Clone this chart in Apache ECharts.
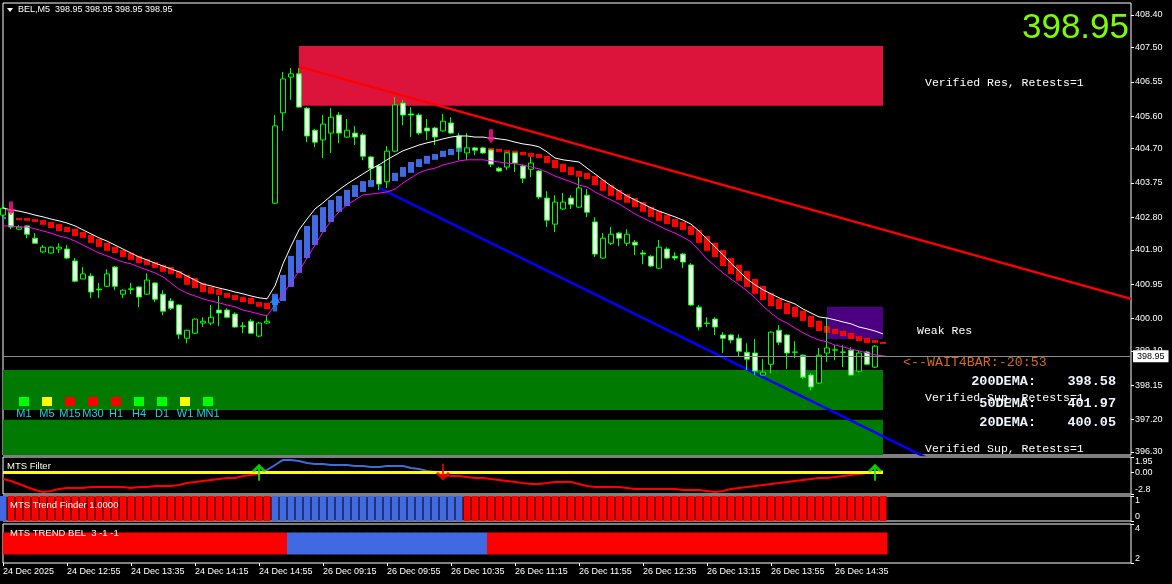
<!DOCTYPE html>
<html><head><meta charset="utf-8">
<script src="https://cdn.jsdelivr.net/npm/echarts@6/dist/echarts.min.js"></script>
<style>html,body{margin:0;padding:0;background:#000;overflow:hidden}#c{width:1172px;height:584px}</style>
</head><body><div id="c"></div>
<script>
// ---------------- DATA ----------------
const symbolName = 'BEL,M5';
const bidPrice = 398.95;
const tickLabels = ['24 Dec 2025','24 Dec 12:55','24 Dec 13:35','24 Dec 14:15','24 Dec 14:55','26 Dec 09:15','26 Dec 09:55','26 Dec 10:35','26 Dec 11:15','26 Dec 11:55','26 Dec 12:35','26 Dec 13:15','26 Dec 13:55','26 Dec 14:35'];
const priceTicks = [396.30,397.20,398.15,399.10,400.00,400.95,401.90,402.80,403.75,404.70,405.60,406.55,407.50,408.40];
const filterTicks = [-2.8, 0, 1.95];
const finderTicks = [0, 1];
const belTicks = [2, 4];

const open = [402.86,402.94,402.47,402.56,402.22,401.84,401.81,401.92,401.92,401.59,
401.09,401.17,400.81,400.89,401.42,400.67,400.80,400.87,400.67,400.98,
400.67,400.48,400.37,399.45,399.59,399.87,399.87,400.23,400.23,400.12,
399.79,399.92,399.51,399.87,403.19,405.69,406.68,406.77,405.82,405.21,
404.94,405.13,405.63,405.02,405.13,405.08,404.47,404.22,403.78,404.63,
405.96,405.66,405.63,405.27,405.27,405.19,405.41,405.05,404.58,404.72,
404.72,404.66,404.16,404.19,404.58,404.22,404.13,404.08,403.33,402.61,
403.03,403.33,403.08,403.41,402.67,401.67,402.08,402.36,402.08,402.11,
401.81,401.72,401.39,401.92,401.72,401.78,401.48,400.31,399.87,399.98,
399.54,399.54,399.45,399.06,399.04,398.43,398.73,399.67,399.54,399.06,
398.98,398.43,398.21,399.04,399.12,399.07,399.12,398.54,399.07,398.65,398.95];
const high = [403.14,403.03,402.58,402.58,402.36,402.03,401.99,402.08,402.03,401.67,
401.42,401.25,400.98,401.36,401.45,400.80,400.98,400.89,401.25,401.00,
400.78,400.56,400.40,399.69,400.00,400.03,400.37,400.62,400.28,400.17,
399.90,399.98,399.90,400.09,405.63,406.82,406.93,406.93,405.85,405.24,
405.63,405.82,405.71,405.52,405.33,405.13,404.50,404.27,404.77,406.13,
406.05,405.85,405.68,405.52,405.30,405.66,405.57,405.13,405.13,404.75,
404.75,404.69,404.19,404.60,404.60,404.25,404.47,404.11,403.52,403.41,
403.47,403.41,403.91,403.58,402.80,402.36,402.53,402.39,402.47,402.17,
401.89,401.75,402.17,401.97,401.83,401.81,401.53,400.37,400.03,400.03,
399.62,399.56,399.56,399.31,399.43,398.87,399.64,399.81,399.56,399.37,
399.00,398.48,399.18,400.01,399.26,399.26,399.20,399.10,399.10,399.26,398.95];
const low = [402.78,402.47,402.44,402.22,402.06,401.81,401.80,401.81,401.64,401.00,
401.09,400.56,400.56,400.87,400.78,400.56,400.67,400.31,400.65,400.45,
400.09,400.23,399.43,399.31,399.57,399.76,399.81,399.79,400.00,399.74,
399.59,399.57,399.48,399.85,403.17,405.19,406.05,405.83,404.88,404.74,
404.44,404.58,404.85,405.00,404.80,404.38,403.83,403.55,403.61,404.60,
405.35,405.02,405.08,404.94,404.80,405.17,405.10,404.38,404.38,404.52,
404.55,404.19,404.05,404.11,404.05,403.75,403.91,403.30,402.53,402.39,
403.00,403.03,403.05,402.80,401.70,401.65,402.03,402.00,402.00,401.75,
401.50,401.42,401.36,401.64,401.61,401.39,400.34,399.67,399.76,399.54,
399.04,399.31,398.93,398.57,398.43,398.42,398.48,399.26,398.59,398.90,
398.32,398.01,398.18,398.79,398.84,398.65,398.40,398.50,398.70,398.62,398.95];
const close = [403.05,402.53,402.53,402.33,402.08,401.97,401.97,401.97,401.67,401.03,
401.23,400.73,400.79,401.23,400.89,400.78,400.82,400.59,401.06,400.53,
400.20,400.28,399.56,399.67,399.98,399.92,400.03,400.15,400.03,399.76,
399.78,399.59,399.87,399.92,405.33,406.63,406.77,405.85,405.05,404.88,
405.38,405.57,405.13,405.21,405.02,404.49,404.16,403.72,404.63,405.91,
405.63,405.63,405.13,405.19,405.02,405.46,405.13,404.72,404.72,404.66,
404.58,404.27,404.08,404.58,404.30,403.88,404.30,403.36,402.72,403.22,
403.22,403.16,403.61,402.94,401.78,402.22,402.33,402.22,402.33,402.03,
401.78,401.45,401.97,401.67,401.67,401.56,400.37,399.76,399.86,399.76,
399.45,399.40,399.09,398.87,398.54,398.51,399.62,399.34,399.04,399.07,
398.37,398.10,398.98,399.18,399.13,399.06,398.43,399.04,398.73,399.23,398.95];

const emaUpper = [403.06,403.00,402.97,402.92,402.86,402.81,402.75,402.70,402.64,402.56,
402.45,402.34,402.23,402.14,402.03,401.92,401.81,401.70,401.62,401.53,
401.45,401.37,401.29,401.17,401.06,400.95,400.90,400.84,400.79,400.73,
400.68,400.62,400.57,400.54,400.90,401.51,402.00,402.45,402.75,403.03,
403.20,403.39,403.56,403.72,403.86,404.00,404.14,404.25,404.39,404.52,
404.64,404.72,404.80,404.86,404.91,404.97,405.02,405.05,405.05,405.02,
405.02,404.99,404.97,404.94,404.88,404.83,404.80,404.75,404.61,404.44,
404.39,404.36,404.33,404.16,404.00,403.83,403.67,403.53,403.39,403.28,
403.17,403.06,402.97,402.89,402.81,402.72,402.61,402.42,402.20,401.98,
401.76,401.53,401.31,401.09,400.93,400.79,400.68,400.57,400.48,400.40,
400.26,400.15,400.04,400.01,399.96,399.90,399.85,399.76,399.71,399.65,399.57];
const emaLower = [402.56,402.56,402.53,402.53,402.48,402.42,402.36,402.28,402.23,402.14,
402.03,401.92,401.81,401.73,401.64,401.56,401.51,401.42,401.34,401.26,
401.15,400.98,400.81,400.70,400.62,400.54,400.48,400.43,400.37,400.32,
400.23,400.18,400.12,400.07,400.37,400.68,400.98,401.31,401.67,402.03,
402.39,402.70,402.95,403.14,403.28,403.42,403.44,403.47,403.50,403.58,
403.75,403.89,404.03,404.11,404.16,404.25,404.30,404.36,404.39,404.39,
404.39,404.36,404.33,404.30,404.28,404.25,404.19,404.14,404.05,403.94,
403.86,403.78,403.69,403.64,403.50,403.39,403.28,403.17,403.03,402.89,
402.78,402.67,402.56,402.45,402.36,402.25,402.12,401.89,401.64,401.45,
401.26,401.09,400.93,400.76,400.57,400.34,400.15,399.98,399.87,399.73,
399.60,399.49,399.40,399.35,399.26,399.21,399.15,399.10,399.04,398.99,398.96];

const ribbonOpen = [402.75,402.81,402.78,402.78,402.75,402.72,402.67,402.61,402.53,402.48,
402.39,402.31,402.20,402.09,401.98,401.89,401.81,401.73,401.64,401.56,
401.48,401.42,401.31,401.20,401.12,400.98,400.87,400.81,400.70,400.65,
400.59,400.57,400.45,400.43,400.37,400.48,400.87,401.26,401.67,402.03,
402.39,402.67,402.95,403.11,403.36,403.50,403.64,403.72,403.78,403.80,
403.92,404.03,404.19,404.28,404.39,404.47,404.52,404.61,404.61,404.64,
404.64,404.72,404.69,404.66,404.64,404.61,404.58,404.55,404.50,404.39,
404.28,404.19,404.08,404.03,403.94,403.83,403.69,403.56,403.44,403.33,
403.22,403.08,402.97,402.86,402.75,402.67,402.56,402.45,402.28,402.09,
401.89,401.67,401.48,401.31,401.09,400.90,400.70,400.54,400.43,400.32,
400.21,400.07,399.93,399.79,399.71,399.65,399.60,399.51,399.46,399.40,399.35];
const ribbonClose = [402.81,402.75,402.72,402.70,402.67,402.59,402.50,402.42,402.39,402.28,
402.23,402.09,401.98,401.87,401.81,401.70,401.62,401.53,401.48,401.40,
401.29,401.23,401.12,400.93,400.84,400.73,400.68,400.65,400.57,400.51,
400.45,400.40,400.32,400.26,400.68,401.20,401.73,402.17,402.56,402.86,
403.08,403.28,403.39,403.56,403.69,403.80,403.83,403.86,403.89,404.03,
404.19,404.33,404.41,404.50,404.55,404.64,404.69,404.72,404.72,404.72,
404.72,404.64,404.61,404.58,404.55,404.52,404.47,404.44,404.30,404.16,
404.05,403.97,403.92,403.86,403.69,403.53,403.39,403.28,403.20,403.08,
402.95,402.81,402.70,402.61,402.53,402.45,402.31,402.09,401.87,401.70,
401.45,401.23,401.04,400.87,400.68,400.51,400.34,400.26,400.12,400.04,
399.93,399.76,399.65,399.60,399.57,399.51,399.43,399.37,399.32,399.32,399.29];

const resTrend = [[37, 406.97], [141, 400.54]];
const supTrend = [[47, 403.61], [117, 395.97]];
// zones: [fromBar, toBar, top, bottom]
const resZone = [37, 110, 407.54, 405.89];
const weakResZone = [103, 110, 400.32, 399.43];
const supZoneA = [0, 110, 398.57, 397.46];
const supZoneB = [0, 110, 397.19, 396.00];
const sellArrows = [[1, 403.04], [61, 405.04]];
const buyArrows = [[34, 400.41]];

const filterValues = [-0.87,-1.13,-1.51,-1.90,-2.28,-2.54,-2.41,-2.16,-2.03,-2.03,
-2.03,-1.90,-1.90,-1.90,-1.90,-1.90,-2.03,-1.90,-1.90,-1.77,
-1.77,-1.77,-1.64,-1.39,-1.26,-1.13,-1.00,-0.87,-0.74,-0.74,
-0.49,-0.36,-0.23,0.28,0.92,1.57,1.57,1.44,1.18,1.05,
1.05,0.92,0.92,0.92,0.80,0.80,0.67,0.67,0.80,0.80,
0.80,0.54,0.41,0.15,0.03,-0.36,-0.49,-0.49,-0.62,-0.74,
-0.74,-0.87,-1.00,-1.13,-1.26,-1.39,-1.51,-1.51,-1.39,-1.26,
-1.26,-1.26,-1.51,-1.77,-1.90,-1.90,-1.90,-1.90,-2.03,-2.16,
-2.16,-2.16,-2.16,-2.16,-2.16,-2.28,-2.28,-2.28,-2.41,-2.54,
-2.41,-2.16,-2.03,-1.90,-1.77,-1.64,-1.51,-1.39,-1.26,-1.13,
-1.00,-0.87,-0.74,-0.74,-0.62,-0.49,-0.36,-0.23,-0.10,0.03,0.15];
const filterLevel = 0;
const filterUp = [32, 109];
const filterDown = [55];
// runs: [fromBar, toBar, direction]
const finderRuns = [[0,0,1],[1,33,-1],[34,57,1],[58,110,-1]];
const belRuns = [[0,35,-1],[36,60,1],[61,110,-1]];
const belLevel = 3;

const mtfNames = ['M1','M5','M15','M30','H1','H4','D1','W1','MN1'];
const mtfState = ['up','flat','down','down','down','up','up','flat','up'];
const demaNames = ['200DEMA:','50DEMA:','20DEMA:'];
const demaValues = [398.58, 401.97, 400.05];
const countdown = '<--WAIT4BAR:-20:53';

// ---------------- BUILD ----------------
const BAR_COUNT = open.length;
const SLOTS = 142;
const cats = Array.from({length: SLOTS}, (_, i) => 'b' + i);
const RED = '#FF0000', BLUE = '#4169E1', LIME = '#00FF00';
const FONT = '"Liberation Sans", Arial, sans-serif';
const MONO = '"Liberation Mono", "Courier New", monospace';
function runsToDirs(runs){const d=[];runs.forEach(r=>{for(let i=r[0];i<=r[1];i++)d[i]=r[2];});return d;}
const finderDir = runsToDirs(finderRuns), belDir = runsToDirs(belRuns);

const candleData = open.map((o, i) => [o, close[i], low[i], high[i]]);
const ribbonData = ribbonOpen.map((o, i) => [i, o, ribbonClose[i]]);
const tickShow = (idx) => idx % 8 === 0 && idx / 8 < tickLabels.length;

function clipRect(r, cs){return echarts.graphic.clipRectByRect(r,{x:cs.x,y:cs.y,width:cs.width,height:cs.height});}
function zoneItem(params, api){
  const a = api.coord([api.value(0), api.value(2)]);
  const b = api.coord([api.value(1), api.value(3)]);
  const s = clipRect({x:a[0], y:a[1], width:b[0]-a[0], height:b[1]-a[1]}, params.coordSys);
  return s && {type:'rect', shape:s, style:{fill: api.visual('color')}};
}
function ribbonItem(params, api){
  const i = api.value(0), o = api.value(1), c = api.value(2);
  const p1 = api.coord([i, Math.max(o,c)]), p2 = api.coord([i, Math.min(o,c)]);
  const s = clipRect({x:p1[0]-3, y:p1[1], width:6, height:Math.max(2, p2[1]-p1[1])}, params.coordSys);
  return s && {type:'rect', shape:s, style:{fill: c >= o ? BLUE : RED}};
}
function belItem(params, api){
  const i = api.value(0), p = api.coord([i, api.value(1)]);
  const s = clipRect({x:p[0]-4, y:p[1]-11, width:8.5, height:22}, params.coordSys);
  return s && {type:'rect', shape:s, style:{fill: api.value(2) > 0 ? BLUE : RED}};
}

const grids = [
  {top:3, height:452}, {top:457, height:37}, {top:496, height:25}, {top:524, height:39}
].map(g => Object.assign({left:3, right:41, show:true, borderColor:'#fff', borderWidth:1, backgroundColor:'#000'}, g));

const xAxes = grids.map((g, k) => ({
  type:'category', data:cats, boundaryGap:false, gridIndex:k,
  axisLine:{show:false}, splitLine:{show:false},
  axisTick:{show:k===3, interval:(i)=>tickShow(i), length:3, lineStyle:{color:'#fff'}},
  axisLabel:{show:k===3, interval:(i)=>tickShow(i), formatter:(v, i)=>tickLabels[i/8] || '', align:'left', color:'#fff', fontFamily:FONT, fontSize:9, margin:4}
}));
function yAx(k, min, max, ticks, fmt){
  return {type:'value', gridIndex:k, position:'right', min, max, splitLine:{show:false},
    axisLine:{show:false},
    axisTick:{show:true, length:3, customValues:ticks, lineStyle:{color:'#fff'}},
    axisLabel:{customValues:ticks, formatter:fmt, color:'#fff', fontFamily:FONT, fontSize:9, margin:4,
      verticalAlignMinLabel: k ? 'bottom' : null, verticalAlignMaxLabel: k ? 'top' : null}};
}
const yAxes = [
  yAx(0, 396.2169, 408.7323, priceTicks, v => v.toFixed(2)),
  yAx(1, -2.8, 1.95, filterTicks, v => Math.abs(v) < 1e-9 ? '0.00' : String(v)),
  yAx(2, 0, 1, finderTicks, v => String(v)),
  yAx(3, 2, 4, belTicks, v => String(v))
];

const arrowDown = 'path://M3,0 L7,0 L7,7 L10,7 L5,13 L0,7 L3,7 Z';
const arrowUp = 'path://M5,0 L10,6 L7,6 L7,13 L3,13 L3,6 L0,6 Z';
const lineUp = 'path://M7,0 L14,7 L12,9 L8,5 L8,17 L6,17 L6,5 L2,9 L0,7 Z';
const lineDown = 'path://M7,17 L14,10 L12,8 L8,12 L8,0 L6,0 L6,12 L2,8 L0,10 Z';

const series = [
  {type:'custom', name:'zones', xAxisIndex:0, yAxisIndex:0, z:1, silent:true, renderItem:zoneItem,
   encode:{x:[0,1], y:[2,3]},
   data:[{value:supZoneA, itemStyle:{color:'#007A00'}}, {value:supZoneB, itemStyle:{color:'#007A00'}},
         {value:resZone, itemStyle:{color:'#DC143C'}}, {value:weakResZone, itemStyle:{color:'#4B0082'}}]},
  {type:'line', name:'res trend', xAxisIndex:0, yAxisIndex:0, z:2, data:resTrend, showSymbol:false, silent:true,
   lineStyle:{color:'#FF0000', width:2.5}},
  {type:'line', name:'sup trend', xAxisIndex:0, yAxisIndex:0, z:2, data:supTrend, showSymbol:false, silent:true,
   lineStyle:{color:'#0000FF', width:2.5}},
  {type:'custom', name:'ribbon', xAxisIndex:0, yAxisIndex:0, z:3, silent:true, renderItem:ribbonItem,
   encode:{x:0, y:[1,2]}, data:ribbonData},
  {type:'candlestick', name:'BEL', xAxisIndex:0, yAxisIndex:0, z:4, data:candleData, barWidth:5, silent:true,
   itemStyle:{color:'#000', color0:'#fff', borderColor:LIME, borderColor0:LIME, borderWidth:1},
   markLine:{silent:true, symbol:['none','none'], data:[{yAxis:bidPrice}],
     lineStyle:{color:'#8C8C8C', width:1, type:'solid'},
     label:{show:true, position:'end', formatter:bidPrice.toFixed(2), color:'#000', backgroundColor:'#fff',
       padding:[2,4,1,4], fontFamily:FONT, fontSize:9, distance:2}}},
  {type:'line', name:'ema upper', xAxisIndex:0, yAxisIndex:0, z:5, data:emaUpper, showSymbol:false, silent:true,
   lineStyle:{color:'#FFFFFF', width:1}},
  {type:'line', name:'ema lower', xAxisIndex:0, yAxisIndex:0, z:5, data:emaLower, showSymbol:false, silent:true,
   lineStyle:{color:'#FF00FF', width:1}},
  {type:'scatter', xAxisIndex:0, yAxisIndex:0, z:6, data:sellArrows, symbol:arrowDown, symbolSize:[10,14],
   itemStyle:{color:'#FF1493'}, silent:true},
  {type:'scatter', xAxisIndex:0, yAxisIndex:0, z:6, data:buyArrows, symbol:arrowUp, symbolSize:[11,16],
   itemStyle:{color:'#1E90FF'}, silent:true},
  // filter pane
  {type:'line', name:'filter', xAxisIndex:1, yAxisIndex:1, z:3, data:filterValues, showSymbol:false, silent:true,
   lineStyle:{width:2},
   markLine:{silent:true, symbol:['none','none'], label:{show:false},
     lineStyle:{color:'#FFFF00', width:3, type:'solid'},
     data:[[{coord:[0, filterLevel]}, {coord:[BAR_COUNT-1, filterLevel]}]]}},
  {type:'scatter', xAxisIndex:1, yAxisIndex:1, z:6, data:filterUp.map(i=>[i, filterLevel]), symbol:lineUp,
   symbolSize:[14,17], itemStyle:{color:LIME}, silent:true},
  {type:'scatter', xAxisIndex:1, yAxisIndex:1, z:6, data:filterDown.map(i=>[i, filterLevel]), symbol:lineDown,
   symbolSize:[14,17], itemStyle:{color:RED}, silent:true},
  // trend finder
  {type:'bar', xAxisIndex:2, yAxisIndex:2, barWidth:7, silent:true,
   data:finderDir.map(d => ({value:1, itemStyle:{color: d > 0 ? BLUE : RED}}))},
  // trend BEL
  {type:'custom', xAxisIndex:3, yAxisIndex:3, silent:true, renderItem:belItem, encode:{x:0, y:1},
   data:belDir.map((d, i) => [i, belLevel, d])}
];

// ---------------- TEXT / LABELS ----------------
const txt = (text, x, y, opt) => ({type:'text', z:100, style:Object.assign({text, x, y, fill:'#fff', font:'9px '+FONT, textVerticalAlign:'middle'}, opt||{})});
const graphic = [
  {type:'polygon', z:100, shape:{points:[[7,8],[13,8],[10,12]]}, style:{fill:'#fff'}},
  txt(symbolName + '  ' + [open[BAR_COUNT-1],high[BAR_COUNT-1],low[BAR_COUNT-1],close[BAR_COUNT-1]].map(v=>v.toFixed(2)).join(' '), 18, 10),
  txt(bidPrice.toFixed(2), 1129, 28, {font:'35px '+FONT, fill:'#7CFC00', textAlign:'right'}),
  txt('Verified Res, Retests=1', 925, 83, {font:'11.5px '+MONO}),
  txt('Weak Res', 917, 331, {font:'11.5px '+MONO}),
  txt(countdown, 903, 362, {font:'13.3px '+MONO, fill:'#D2691E'}),
  txt('Verified Sup, Retests=1', 925, 398, {font:'11.5px '+MONO}),
  txt('Verified Sup, Retests=1', 925, 449, {font:'11.5px '+MONO}),
  txt('MTS Filter', 7, 466, {font:'9.5px '+FONT}),
  txt('MTS Trend Finder 1.0000', 10, 505, {font:'9.5px '+FONT}),
  txt('MTS TREND BEL  3 -1 -1', 10, 533, {font:'9.5px '+FONT})
];
const demaY = [382, 404, 423];
demaNames.forEach((n, k) => {
  graphic.push(txt(n, 1036, demaY[k], {font:'bold 13.5px '+MONO, fill:'#EEF5FF', textAlign:'right'}));
  graphic.push(txt(demaValues[k].toFixed(2), 1116, demaY[k], {font:'bold 13.5px '+MONO, fill:'#EEF5FF', textAlign:'right'}));
});
const stateColor = {up:'#00FF00', flat:'#FFFF00', down:'#FF0000'};
mtfNames.forEach((n, k) => {
  const cx = 24 + 23 * k;
  graphic.push({type:'rect', z:100, shape:{x:cx-5, y:397, width:10, height:9}, style:{fill:stateColor[mtfState[k]]}});
  graphic.push(txt(n, cx, 414, {font:'11px '+FONT, fill:'#20D0E0', textAlign:'center'}));
});

const chart = echarts.init(document.getElementById('c'), null, {renderer:'canvas', width:1172, height:584});
chart.setOption({
  backgroundColor:'#000', animation:false,
  grid:grids, xAxis:xAxes, yAxis:yAxes,
  visualMap:[{type:'piecewise', show:false, seriesIndex:9, dimension:1, min:-2.8, max:1.95,
    pieces:[{gt:0, lte:1.95, color:BLUE}, {gte:-2.8, lte:0, color:RED}]}],
  series, graphic
});
</script></body></html>
